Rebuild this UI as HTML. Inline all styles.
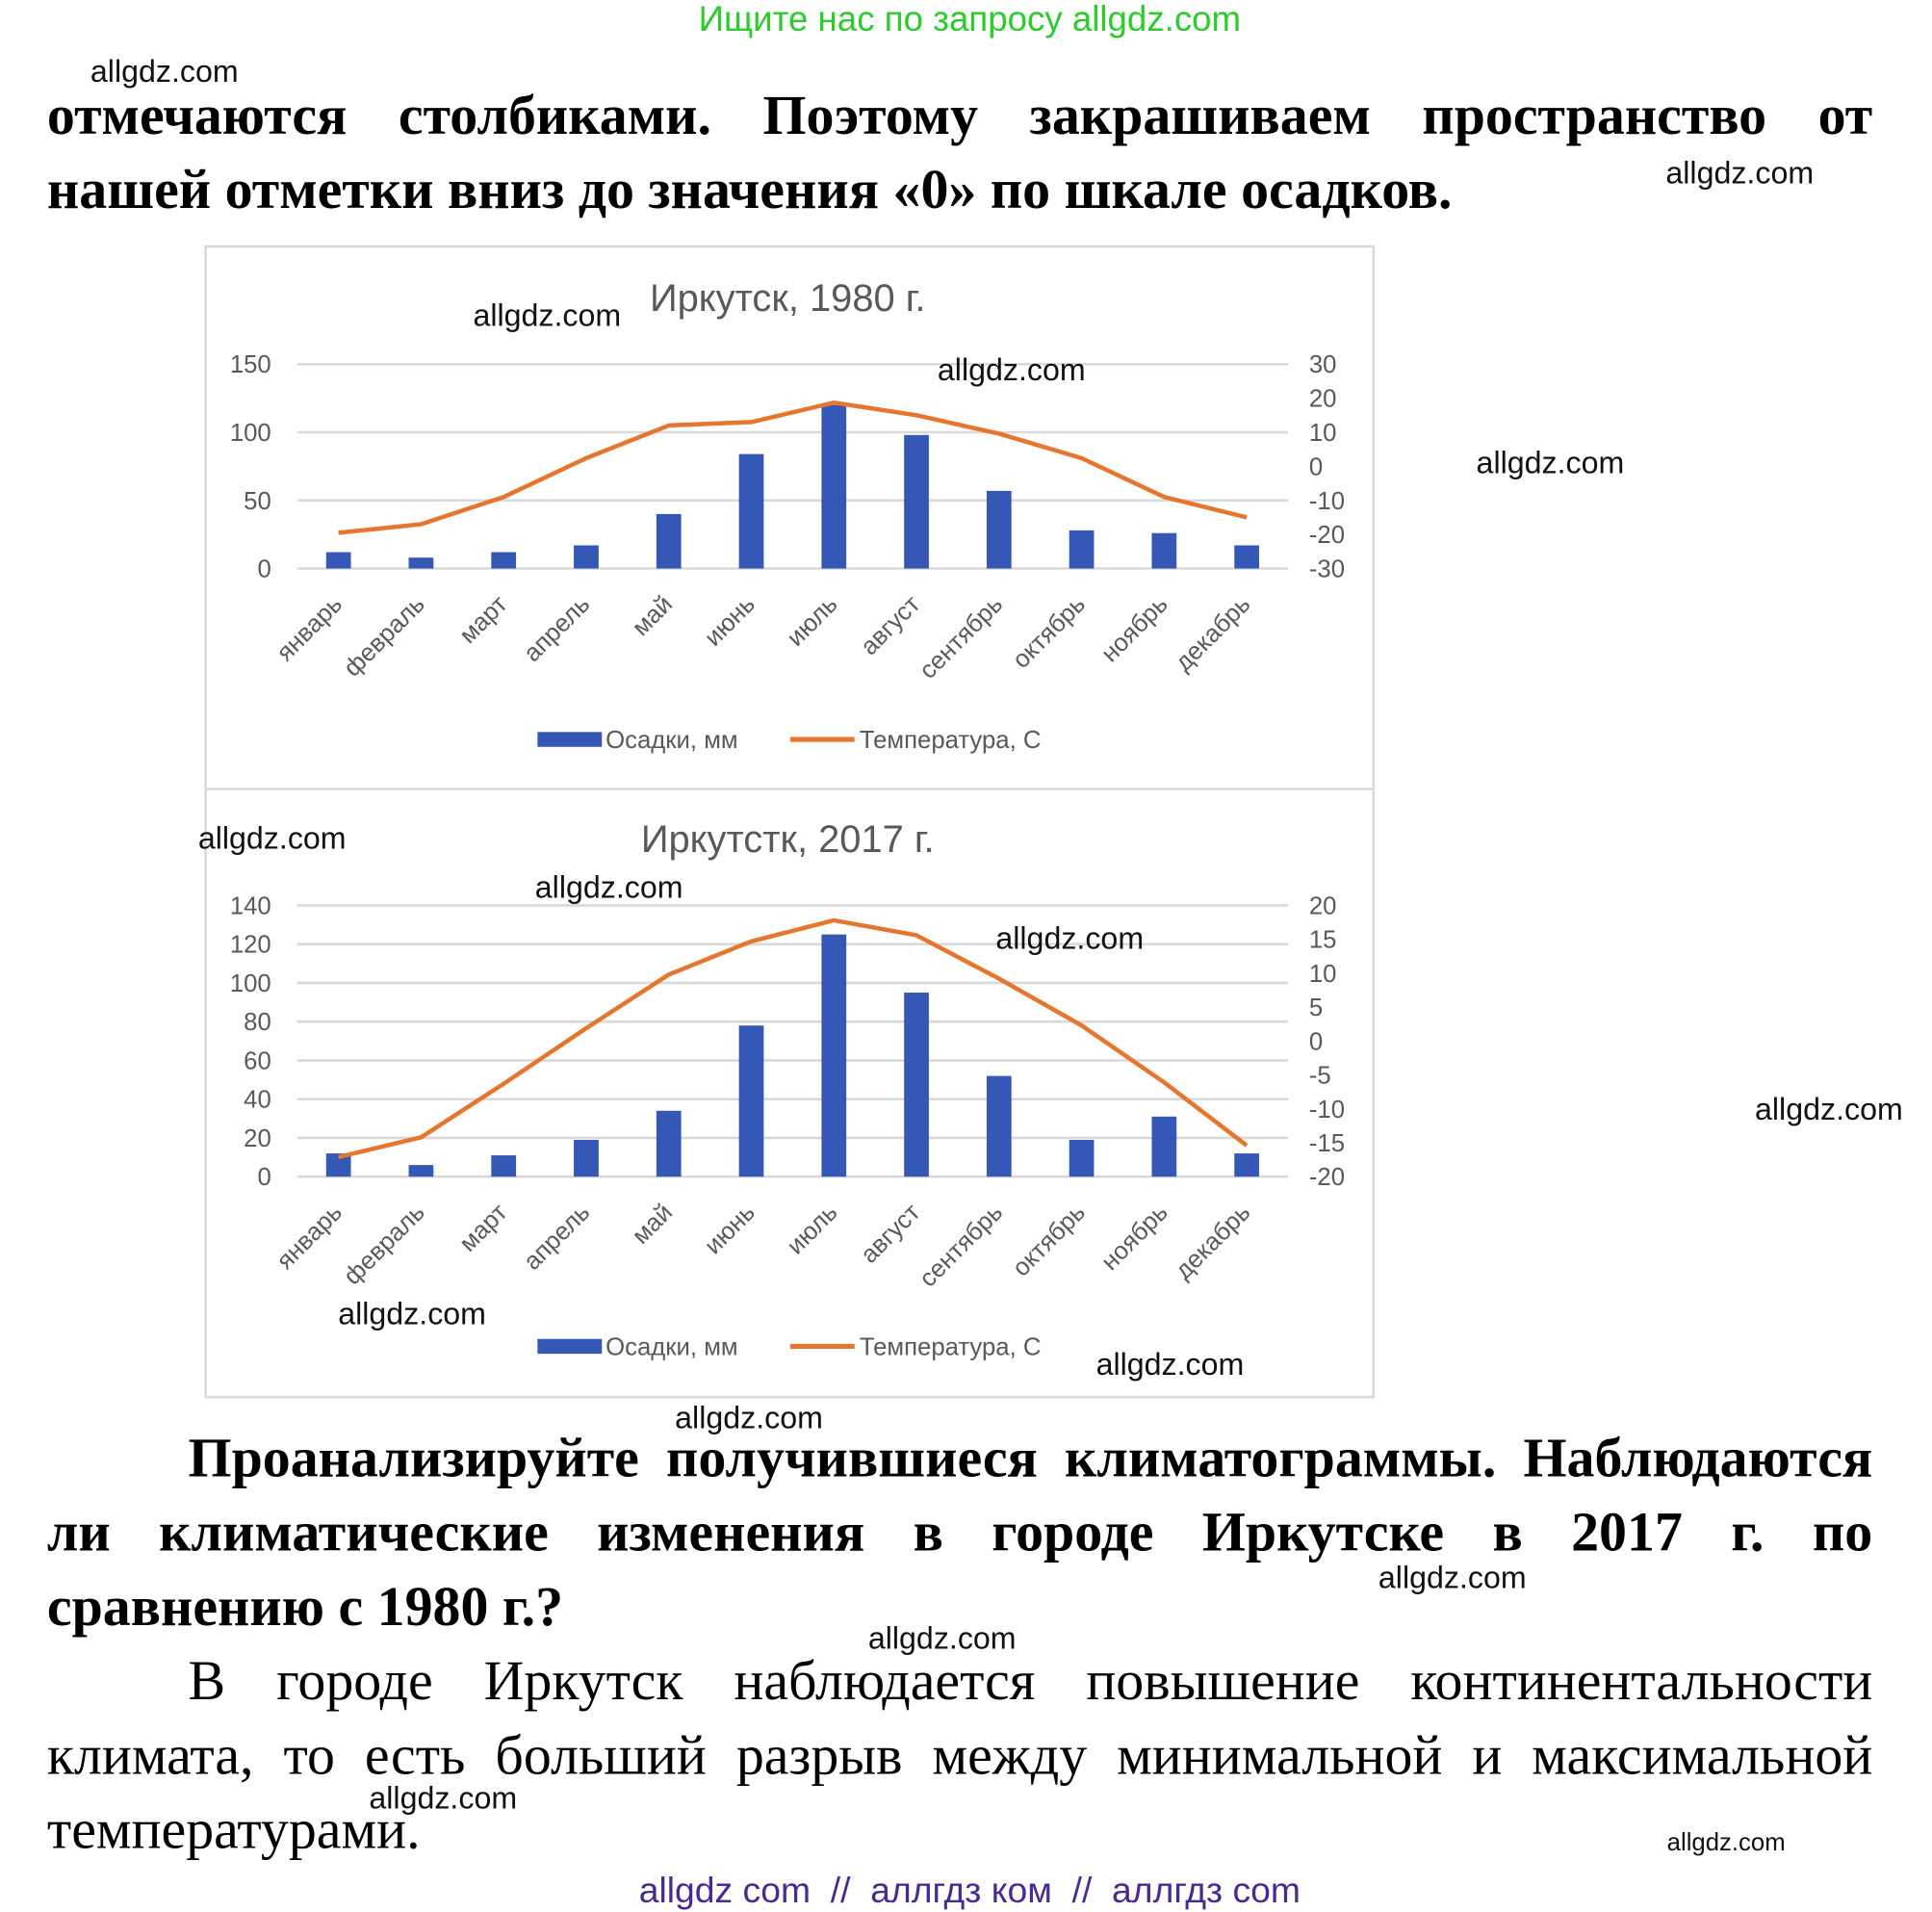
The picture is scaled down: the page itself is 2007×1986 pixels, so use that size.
<!DOCTYPE html>
<html><head><meta charset="utf-8">
<style>
html,body{margin:0;padding:0;background:#fff;width:2007px;height:1983px;overflow:hidden}
#page{position:absolute;left:0;top:0;width:1560px;height:1541px;transform:scale(1.28654);transform-origin:0 0;font-family:"Liberation Sans","DejaVu Sans",sans-serif}
.wm{position:absolute;font-size:25px;color:#111;white-space:nowrap}
.tl{position:absolute;left:38px;width:1474px;font-family:"Liberation Serif","DejaVu Serif",serif;font-size:45px;text-align:justify;text-align-last:justify;white-space:nowrap;line-height:50px;color:#000}
.b{font-weight:bold}
.frame{position:absolute;border:2px solid #d9d9d9;background:#fff}
svg text{font-family:"Liberation Sans","DejaVu Sans",sans-serif}
</style></head><body>
<div id="page">
<div style="position:absolute;left:0;width:1566px;top:0px;text-align:center;font-size:28.5px;color:#2bcc2b">Ищите нас по запросу allgdz.com</div>

<div class="tl b" style="top:68px">отмечаются столбиками. Поэтому закрашиваем пространство от</div>
<div class="tl b" style="top:128px;text-align-last:left">нашей отметки вниз до значения «0» по шкале осадков.</div>

<div class="frame" style="left:165px;top:198px;width:941px;height:436px"></div>
<div class="frame" style="left:165px;top:636px;width:941px;height:489px"></div>
<svg id="charts" width="1560" height="1541" style="position:absolute;left:0;top:0"></svg>

<div class="tl b" style="top:1152px;left:152px;width:1360px">Проанализируйте получившиеся климатограммы. Наблюдаются</div>
<div class="tl b" style="top:1212px">ли климатические изменения в городе Иркутске в 2017 г. по</div>
<div class="tl b" style="top:1272px;text-align-last:left">сравнению с 1980 г.?</div>
<div class="tl" style="top:1332px;left:152px;width:1360px">В городе Иркутск наблюдается повышение континентальности</div>
<div class="tl" style="top:1392px">климата, то есть больший разрыв между минимальной и максимальной</div>
<div class="tl" style="top:1452px;text-align-last:left">температурами.</div>

<div style="position:absolute;left:0;width:1566px;top:1511px;text-align:center;font-size:29px;color:#4a2a92">allgdz com &nbsp;// &nbsp;аллгдз ком &nbsp;// &nbsp;аллгдз com</div>

<div class="wm" style="left:73px;top:44px">allgdz.com</div>
<div class="wm" style="left:1345px;top:126px">allgdz.com</div>
<div class="wm" style="left:382px;top:241px">allgdz.com</div>
<div class="wm" style="left:757px;top:285px">allgdz.com</div>
<div class="wm" style="left:1192px;top:360px">allgdz.com</div>
<div class="wm" style="left:160px;top:663px">allgdz.com</div>
<div class="wm" style="left:432px;top:703px">allgdz.com</div>
<div class="wm" style="left:804px;top:744px">allgdz.com</div>
<div class="wm" style="left:1417px;top:882px">allgdz.com</div>
<div class="wm" style="left:273px;top:1047px">allgdz.com</div>
<div class="wm" style="left:885px;top:1088px">allgdz.com</div>
<div class="wm" style="left:545px;top:1131px">allgdz.com</div>
<div class="wm" style="left:1113px;top:1260px">allgdz.com</div>
<div class="wm" style="left:701px;top:1309px">allgdz.com</div>
<div class="wm" style="left:298px;top:1438px">allgdz.com</div>
<div class="wm" style="left:1346px;top:1477px;font-size:20px">allgdz.com</div>
</div>
<script>
const months = ["январь","февраль","март","апрель","май","июнь","июль","август","сентябрь","октябрь","ноябрь","декабрь"];
const precip1980 = [12,8,12,17,40,84,120,98,57,28,26,17];
const temp1980 = [-19.5,-17,-9,2.4,12,13,18.7,15,9.6,2.4,-9,-15];
const leftTicks1980 = [0,50,100,150];
const rightTicks1980 = [-30,-20,-10,0,10,20,30];
const precip2017 = [12,6,11,19,34,78,125,95,52,19,31,12];
const temp2017 = [-17.1,-14.2,-6.3,1.9,9.8,14.7,17.8,15.6,9.2,2.3,-6.1,-15.4];
const leftTicks2017 = [0,20,40,60,80,100,120,140];
const rightTicks2017 = [-20,-15,-10,-5,0,5,10,15,20];

const NS = "http://www.w3.org/2000/svg";
const svg = document.getElementById("charts");
function mk(tag, attrs, parent){
  const e = document.createElementNS(NS, tag);
  for (const k in attrs) e.setAttribute(k, attrs[k]);
  (parent||svg).appendChild(e);
  return e;
}
function drawChart(cfg){
  const g = mk("g", {});
  
  
  const x0 = 240, x1 = 1040, step = (x1-x0)/12;
  const xc = i => x0 + step*(i+0.5);
  const lMin = cfg.lTicks[0], lMax = cfg.lTicks[cfg.lTicks.length-1];
  const rMin = cfg.rTicks[0], rMax = cfg.rTicks[cfg.rTicks.length-1];
  const yL = v => cfg.bottom - (v-lMin)/(lMax-lMin)*(cfg.bottom-cfg.top);
  const yR = v => cfg.bottom - (v-rMin)/(rMax-rMin)*(cfg.bottom-cfg.top);
  const t = mk("text", {x:636, y:cfg.titleY, "text-anchor":"middle", "font-size":31, fill:"#595959"}, g);
  t.textContent = cfg.title;
  
  
  cfg.lTicks.forEach(v => {
    const ln = mk("line", {x1:x0, x2:x1, y1:yL(v), y2:yL(v), stroke:"#d9d9d9", "stroke-width":2}, g);
    
    
    const tx = mk("text", {x:219, y:yL(v)+7, "text-anchor":"end", "font-size":20, fill:"#595959"}, g);
    tx.textContent = v;
    
    
  });
  cfg.rTicks.forEach(v => {
    const tx = mk("text", {x:1057, y:yR(v)+7, "text-anchor":"start", "font-size":20, fill:"#595959"}, g);
    tx.textContent = v;
    
    
  });
  cfg.precip.forEach((v,i) => {
    const r = mk("rect", {x:xc(i)-10, y:yL(v), width:20, height:yL(lMin)-yL(v), fill:"#3557b5"}, g);
    
    
  });
  const pts = cfg.temp.map((v,i) => xc(i)+","+yR(v)).join(" ");
  const pl = mk("polyline", {points:pts, fill:"none", stroke:"#e6762e", "stroke-width":3.5, "stroke-linejoin":"round"}, g);
  
  
  months.forEach((m,i) => {
    const ax = xc(i)+4, ay = cfg.bottom+30;
    const tx = mk("text", {x:ax, y:ay, "text-anchor":"end", "font-size":20, fill:"#595959", transform:"rotate(-45 "+ax+" "+ay+")"}, g);
    tx.textContent = m;
    
    
  });
  const lr = mk("rect", {x:434, y:cfg.legendY-6, width:52, height:12, fill:"#3557b5"}, g);
  
  
  const lt = mk("text", {x:489, y:cfg.legendY+7, "font-size":20, fill:"#595959"}, g);
  lt.textContent = "Осадки, мм";
  
  
  const ll = mk("line", {x1:638, x2:690, y1:cfg.legendY, y2:cfg.legendY, stroke:"#e6762e", "stroke-width":4}, g);
  
  
  const lt2 = mk("text", {x:694, y:cfg.legendY+7, "font-size":20, fill:"#595959"}, g);
  lt2.textContent = "Температура, С";
  
  
}
drawChart({name:"chart-1980", title:"Иркутск, 1980  г.", titleY:251, top:294, bottom:459, precip:precip1980, temp:temp1980, lTicks:leftTicks1980, rTicks:rightTicks1980, legendY:597});
drawChart({name:"chart-2017", title:"Иркутстк, 2017  г.", titleY:688, top:731, bottom:950, precip:precip2017, temp:temp2017, lTicks:leftTicks2017, rTicks:rightTicks2017, legendY:1087});
</script>
</body></html>
